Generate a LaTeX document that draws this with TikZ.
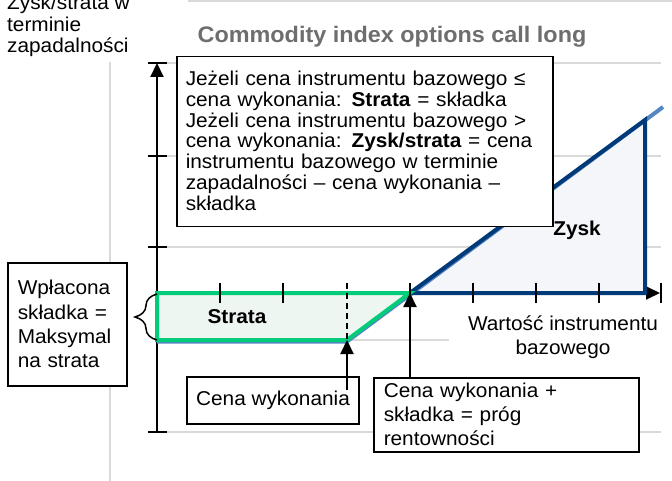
\documentclass[tikz,border=0pt]{standalone}
\usepackage{fontspec}
\setmainfont{Liberation Sans}[FakeStretch=1.04]
\usetikzlibrary{arrows.meta,decorations.pathreplacing,calc}
\definecolor{gridgrey}{RGB}{217,217,217}
\definecolor{titlegrey}{RGB}{110,110,110}
\definecolor{lossgreen}{RGB}{0,204,122}
\definecolor{lossfill}{RGB}{238,246,242}
\definecolor{gainblue}{RGB}{0,58,120}
\definecolor{gainfill}{RGB}{244,246,250}
\definecolor{payoffblue}{RGB}{84,134,196}
\newcommand\Gap[1]{\rule[-#1]{0pt}{#1}}

\begin{document}
\begin{tikzpicture}[x=1pt,y=-1pt,
  font=\fontsize{20}{24}\selectfont,
  gridline/.style={draw=gridgrey,line width=1.5pt},
  axis/.style={line width=2pt,-{Triangle[length=14pt,width=13pt]}},
  pointer/.style={line width=2pt,-{Triangle[length=14pt,width=13pt]}},
  textbox/.style={draw,line width=1.5pt,fill=white,inner xsep=9pt,align=left},
  payoff/.style={line width=4pt,line join=miter}]
\useasboundingbox (0,0) rectangle (672,481);
\draw[gridline] (188,1) -- (672,1);
\foreach \y in {63,156,247,432} \draw[gridline] (167,\y) -- (661,\y);
\draw[gridline] (167,340) -- (449,340);
\draw[gridline] (110,62) -- (110,481);
\node[font=\fontsize{22.5}{27}\selectfont\bfseries,text=titlegrey] (title) at (392,37) {Commodity index options call long};
\node[anchor=base west,align=left,inner sep=0pt,font=\fontsize{20}{21.5}\selectfont] (ylabel) at (7,53) {Zysk/strata w\\terminie\\zapadalności};
\coordinate (strike) at (347,340);
\coordinate (breakeven) at (410,293);
\coordinate (peak) at (645,120);
\coordinate (tail) at (663,107);
\fill[gainfill] (breakeven) -- (peak) -- (645,293) -- cycle;
\fill[lossfill] (157,293) -- (breakeven) -- (strike) -- (157,340) -- cycle;
\draw[axis] (157,432) -- (157,63);
\draw[axis] (157,293) -- (660,293);
\draw[payoff,payoffblue] (157,341.5) -- (347,341.5) -- (411,294) -- (tail);
\draw[payoff,gainblue] (breakeven) -- (peak) -- (645,293) -- cycle;
\draw[payoff,lossgreen] (157,293) -- (breakeven) -- (strike) -- (157,340) -- cycle;
\draw[line width=2.5pt,dash pattern=on 6pt off 4pt] (347,283) -- (strike);
\foreach \x in {220,283,410,473,536,599,661} \draw[line width=2pt] (\x,283) -- (\x,303);
\foreach \y in {63,156,247,432} \draw[line width=2pt] (148,\y) -- (167,\y);
\draw[line width=1.5pt,decorate,decoration={brace,amplitude=22pt}] (157,340) -- (157,294);
\node[font=\fontsize{20}{24}\selectfont\bfseries] (loss) at (237,317) {Strata};
\node[font=\fontsize{20}{24}\selectfont\bfseries] (gain) at (577,230) {Zysk};
\node[align=center] (xlabel) at (563,337) {Wartość instrumentu\\bazowego};
\node[textbox,anchor=north west,text width=358pt,minimum height=170pt,font=\fontsize{20}{20.8}\selectfont] (rule) at (176,56)
  {Jeżeli cena instrumentu bazowego ≤\\cena wykonania: \textbf{Strata} = składka\\Jeżeli cena instrumentu bazowego >\\cena wykonania: \textbf{Zysk/strata} = cena\\instrumentu bazowego w terminie\\zapadalności – cena wykonania –\\składka\Gap{2pt}};
\node[textbox,minimum width=170pt,minimum height=47pt] (strikebox) at (273,400.5) {Cena wykonania};
\node[textbox,anchor=north west,text width=245pt,inner xsep=10pt,minimum height=74pt,font=\fontsize{20}{24}\selectfont] (bebox) at (373,377) {Cena wykonania +\\składka = próg\\rentowności};
\node[textbox,anchor=north west,text width=99pt,inner xsep=10pt,minimum height=123pt,font=\fontsize{20}{24.3}\selectfont] (premium) at (7,262) {Wpłacona\\składka =\\Maksymal\\na strata};
\draw[pointer] ($(strike |- strikebox.north)+(0,14)$) -- (strike);
\draw[pointer] (breakeven |- bebox.north) -- (breakeven);
\end{tikzpicture}
\end{document}
